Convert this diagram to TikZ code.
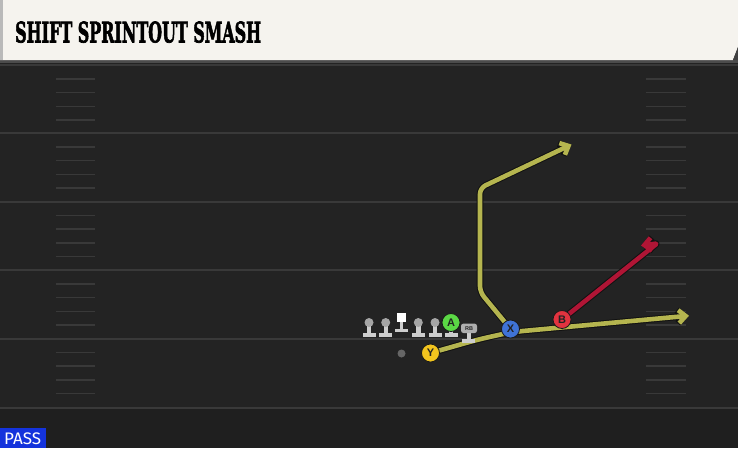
\documentclass[tikz,border=0pt]{standalone}
\usepackage{fontspec}
\usepackage{graphicx}
\usetikzlibrary{arrows.meta}
\setmainfont{Liberation Sans}
\newfontfamily\titlefont{DejaVu Serif}[BoldFeatures={FakeBold=2.5}]
\newfontfamily\passfont{Fira Sans}
\definecolor{fieldc}{HTML}{232323}
\definecolor{fieldlow}{HTML}{1F1F1F}
\definecolor{yardc}{HTML}{393939}
\definecolor{headerc}{HTML}{F5F3EE}
\definecolor{routey}{HTML}{B5B54F}
\definecolor{router}{HTML}{B01535}
\definecolor{routeedge}{HTML}{111111}
\definecolor{edgec}{HTML}{1A1A1A}
\definecolor{lettc}{HTML}{222222}
\definecolor{headc}{HTML}{A5A5A5}
\definecolor{pawnc}{HTML}{CDCDCD}
\definecolor{yelc}{HTML}{F2C41E}
\definecolor{bluec}{HTML}{3F73D6}
\definecolor{redc}{HTML}{E2333F}
\definecolor{grnc}{HTML}{5BD845}
\definecolor{passc}{HTML}{1433DC}
\pgfdeclarelayer{fieldlayer}
\pgfdeclarelayer{routelayer}
\pgfsetlayers{fieldlayer,routelayer,main}
\begin{document}
\begin{tikzpicture}[x=1pt,y=-1pt,
  yard/.style={draw=yardc,line width=2pt},
  hashm/.style={draw=yardc,line width=1.5pt},
  route/.style={line width=4.6pt,line cap=round,line join=round,
    preaction={draw=routeedge,line width=6.6pt,line cap=round,line join=round}},
  tip/.style={-{Straight Barb[length=7pt,width=13pt]}},
  player/.style={circle,draw=edgec,line width=0.8pt,minimum size=18pt,inner sep=0pt,
    font=\bfseries\fontsize{11}{11}\selectfont,text=lettc},
  headn/.style={circle,fill=headc,minimum size=9pt,inner sep=0pt},
  pawn/.style={fill=pawnc}]
\useasboundingbox (0,0) rectangle (738,448);
\begin{pgfonlayer}{fieldlayer}
\fill[fieldc] (0,0) rectangle (738,448);
\fill[fieldlow] (0,409) rectangle (738,448);
\fill[black!70] (0,60) rectangle (738,63);
\foreach \yy in {65,133,201.5,270,338.5,408}
  \draw[yard] (0,\yy) -- (738,\yy);
\foreach \bb in {65,133,201.5,270,338.5}
  \foreach \k in {1,2,3,4}{
    \draw[hashm] (56,{\bb+13.8*\k}) -- (95,{\bb+13.8*\k});
    \draw[hashm] (646,{\bb+13.8*\k}) -- (686,{\bb+13.8*\k});
  }
\fill[headerc] (0,0) -- (738,0) -- (738,47) -- (733,60) -- (0,60) -- cycle;
\fill[black!75] (733,60) -- (738,47) -- (738,60) -- cycle;
\fill[gray!55] (0,0) rectangle (2.5,60);
\end{pgfonlayer}
% title
\node[anchor=south west,inner sep=0pt] (title) at (15,43)
  {\resizebox{246pt}{21pt}{\titlefont\bfseries SHIFT SPRINTOUT SMASH}};
% pass badge
\node[fill=passc,anchor=south west,minimum width=46pt,minimum height=20pt,inner sep=0pt] (pass) at (0,448) {};
\node[anchor=south west,inner sep=0pt,text=white] (passtxt) at (4,445)
  {\resizebox{37pt}{11.7pt}{\passfont PASS}};
% linemen
\foreach \nm/\xx in {lt/369,lg/385.7,rg/418.3,rt/435}{
  \fill[pawn] (\xx-2.2,322.5) rectangle (\xx+2.2,334);
  \fill[pawn] (\xx-6.5,333) rectangle (\xx+6.5,337);
  \node[headn] (\nm) at (\xx,322.5) {};
}
% center
\fill[pawn] (399.6,321.5) rectangle (403.4,329);
\fill[pawn] (395,328.5) rectangle (408,332);
\node[fill=white,minimum size=8.5pt,inner sep=0pt] (c) at (401.3,317.5) {};
% A (tight end)
\fill[pawn] (449.3,330) rectangle (452.7,334);
\fill[pawn] (444.5,333) rectangle (457.5,336.5);
\node[player,fill=grnc] (nA) at (451,322.5) {A};
% RB
\fill[pawn] (467,332) rectangle (471,340);
\fill[pawn] (462,339) rectangle (475,343);
\node[fill=headc!90!white,rounded corners=2.5pt,minimum width=16pt,minimum height=9.5pt,inner sep=0pt,
  font=\bfseries\fontsize{5.5}{5.5}\selectfont,text=lettc] (rb) at (469,328.3) {RB};
% QB
\node[circle,fill=gray!80!black,minimum size=8pt,inner sep=0pt] (qb) at (401.5,353.5) {};
% skill players
\node[player,fill=yelc] (nY) at (430.5,353) {Y};
\node[player,fill=bluec] (nX) at (510.5,329) {X};
\node[player,fill=redc] (nB) at (562,319.5) {B};
% route ends
\coordinate (yend) at (689,315.7);
\coordinate (xend) at (571.5,144.5);
\coordinate (bturn) at (657,243.5);
\coordinate (bend) at (641,245.5);
\begin{pgfonlayer}{routelayer}
\draw[route,tip,draw=routey,rounded corners=12pt] (nY.center) -- (478,339.5) -- (512,332) -- (yend);
\draw[route,tip,draw=routey,rounded corners=6pt] (nX.center) -- (480,292) -- (480,188) -- (xend);
\draw[route,tip,draw=router,rounded corners=1pt] (nB.center) -- (bturn) -- (bend);
\end{pgfonlayer}
\end{tikzpicture}
\end{document}
